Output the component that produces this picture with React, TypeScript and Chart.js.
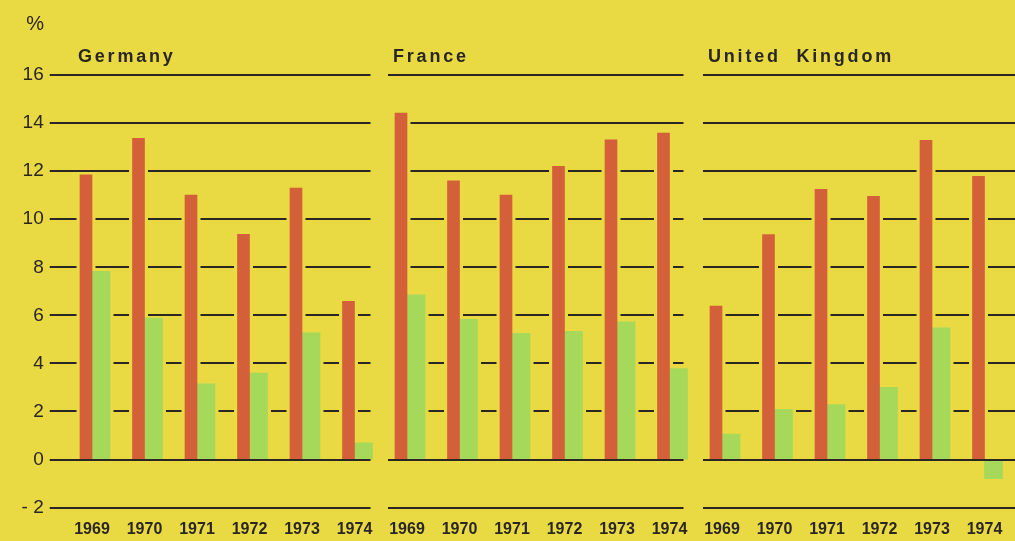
import React, { useEffect, useRef } from 'react';
import { Chart, registerables } from 'chart.js';

Chart.register(...registerables);

const countries = ['Germany', 'France', 'United  Kingdom'];
const years = ['1969', '1970', '1971', '1972', '1973', '1974'];

const germanyRed = [11.85, 13.37, 11.0, 9.37, 11.3, 6.58];
const germanyGreen = [7.83, 5.89, 3.15, 3.6, 5.27, 0.69];
const franceRed = [14.42, 11.6, 11.0, 12.2, 13.3, 13.58];
const franceGreen = [6.85, 5.83, 5.25, 5.33, 5.73, 3.78];
const ukRed = [6.39, 9.36, 11.24, 10.95, 13.28, 11.78];
const ukGreen = [1.06, 2.09, 2.29, 3.0, 5.48, -0.8];

const yMin = -2;
const yMax = 16;
const yStep = 2;

const BG = '#E9D942';
const RED = '#D4603A';
const GREEN = '#A6D95A';
const INK = '#2a2622';
const FAMILY = "'Liberation Sans', Arial, Helvetica, sans-serif";

const panelGrid = {
  id: 'panelGrid',
  _panels(chart: any) {
    const { chartArea, scales } = chart;
    const x = scales.x;
    const n = years.length;
    return countries.map((_, k) => {
      const first = x.getPixelForValue(k * n);
      const last = x.getPixelForValue(k * n + n - 1);
      const start = k === 0 ? chartArea.left - 16 : first - 19;
      const end = k === countries.length - 1 ? chart.width : last + (k === 0 ? 16 : 14);
      return { start, end, from: k * n, to: k * n + n - 1 };
    });
  },
  _drawLines(chart: any, zeroOnly: boolean) {
    const { ctx, scales } = chart;
    const y = scales.y;
    const panels = this._panels(chart);
    ctx.save();
    ctx.strokeStyle = INK;
    ctx.lineWidth = 2;
    y.ticks.forEach((t: any) => {
      const v = t.value;
      if (zeroOnly !== (v === 0)) return;
      const py = Math.round(y.getPixelForValue(v));
      panels.forEach((p: any) => {
        const gaps: number[][] = [];
        if (v > 0) {
          for (let i = p.from; i <= p.to; i++) {
            let l = Infinity;
            let r = -Infinity;
            chart.data.datasets.forEach((ds: any, d: number) => {
              const val = ds.data[i];
              if (val > v) {
                const el: any = chart.getDatasetMeta(d).data[i];
                l = Math.min(l, el.x - el.width / 2);
                r = Math.max(r, el.x + el.width / 2);
              }
            });
            if (l < r) gaps.push([l - 3.5, r + 3.5]);
          }
        }
        let cur = p.start;
        ctx.beginPath();
        const seg = (a: number, b: number) => {
          if (b - a >= 6) {
            ctx.moveTo(a, py);
            ctx.lineTo(b, py);
          }
        };
        gaps.forEach(([a, b]) => {
          if (a > cur) seg(cur, a);
          cur = Math.max(cur, b);
        });
        if (cur < p.end) seg(cur, p.end);
        ctx.stroke();
      });
    });
    ctx.restore();
  },
  beforeDatasetsDraw(chart: any) {
    this._drawLines(chart, false);
  },
  afterDatasetsDraw(chart: any) {
    this._drawLines(chart, true);
  },
  afterDraw(chart: any) {
    const { ctx, scales } = chart;
    const x = scales.x;
    const n = years.length;
    ctx.save();
    ctx.fillStyle = INK;
    ctx.textBaseline = 'alphabetic';
    ctx.textAlign = 'left';
    ctx.font = `bold 18px ${FAMILY}`;
    try { (ctx as any).letterSpacing = '2.8px'; } catch (e) {}
    countries.forEach((c, k) => {
      const px = x.getPixelForValue(k * n) - 14;
      ctx.fillText(c, px, 62);
    });
    try { (ctx as any).letterSpacing = '0px'; } catch (e) {}
    ctx.font = `20px ${FAMILY}`;
    ctx.textAlign = 'right';
    ctx.fillText('%', 44, 30);
    ctx.restore();
  },
};

export default function App() {
  const ref = useRef<HTMLCanvasElement | null>(null);

  useEffect(() => {
    if (!ref.current) return;
    const labels = countries.flatMap(() => years);
    const chart = new Chart(ref.current, {
      type: 'bar',
      data: {
        labels,
        datasets: [
          {
            data: [...germanyRed, ...franceRed, ...ukRed],
            backgroundColor: RED,
            barThickness: 12,
          },
          {
            data: [...germanyGreen, ...franceGreen, ...ukGreen],
            backgroundColor: GREEN,
            barThickness: 18,
          },
        ],
      },
      options: {
        responsive: false,
        animation: false,
        layout: { padding: { top: 75, right: 4.25, left: 0, bottom: 0 } },
        plugins: { legend: { display: false }, tooltip: { enabled: false } },
        scales: {
          x: {
            grid: { display: false, drawTicks: false },
            border: { display: false },
            ticks: {
              color: INK,
              font: { family: FAMILY, size: 16, weight: 'bold' },
              padding: 12,
              maxRotation: 0,
              autoSkip: false,
            },
            afterFit: (s: any) => { s.height = 32; },
          },
          y: {
            min: yMin,
            max: yMax,
            grid: { display: false, drawTicks: false },
            border: { display: false },
            ticks: {
              stepSize: yStep,
              color: INK,
              font: { family: FAMILY, size: 19 },
              padding: 22,
              callback: (v: any) => (Number(v) < 0 ? '- ' + Math.abs(Number(v)) : String(v)),
            },
            afterFit: (s: any) => { s.width = 65.75; },
          },
        },
      },
      plugins: [panelGrid as any],
    });
    return () => chart.destroy();
  }, []);

  return (
    <div style={{ position: 'fixed', left: 0, top: 0, width: 1015, height: 541, background: BG }}>
      <canvas ref={ref} width={1015} height={541} style={{ width: 1015, height: 541, display: 'block' }} />
    </div>
  );
}
